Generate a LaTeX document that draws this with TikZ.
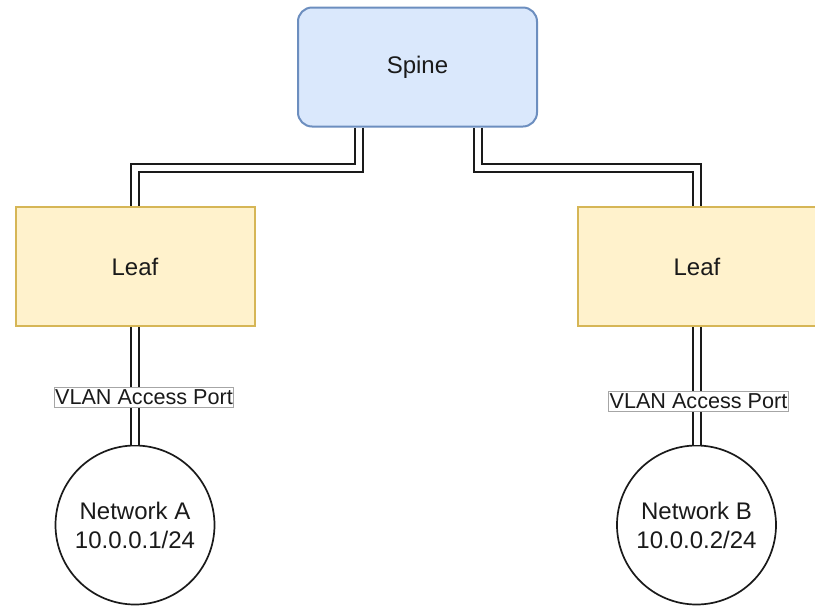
\documentclass[tikz,border=0pt]{standalone}
\usepackage{fontspec}
\setmainfont{Liberation Sans}
\definecolor{spinefill}{HTML}{DAE8FC}
\definecolor{spinedraw}{HTML}{6C8EBF}
\definecolor{leaffill}{HTML}{FFF2CC}
\definecolor{leafdraw}{HTML}{D6B656}
\definecolor{ink}{HTML}{1A1A1A}
\begin{document}
\begin{tikzpicture}[x=1pt, y=-1pt,
  every node/.style={text=ink, font=\fontsize{24}{29}\selectfont},
  spinebox/.style={draw=spinedraw, fill=spinefill, line width=2pt,
    rounded corners=14pt, minimum width=239pt, minimum height=119pt},
  leafbox/.style={draw=leafdraw, fill=leaffill, line width=2pt,
    minimum width=239pt, minimum height=119pt},
  netcircle/.style={draw=ink, fill=white, line width=1.7pt, circle,
    minimum size=159pt, inner sep=0pt, align=center},
  link/.style={draw=ink, line width=2pt, double=white,
    double distance=6pt, line join=miter},
  portlabel/.style={draw=black!35, line width=0.7pt, fill=white,
    font=\fontsize{21.6}{24}\selectfont, inner xsep=1pt, inner ysep=2.5pt}
]
\useasboundingbox (0,0) rectangle (815,606);
\clip (0,0) rectangle (815,606);

% switches
\node[spinebox] (spine) at (417.5,67) {Spine};
\node[leafbox] (leafL) at (135,266.5) {Leaf};
\node[leafbox] (leafR) at (697,266.5) {Leaf};

% attached networks
\node[netcircle] (netA) at (135,525) {Network A\\10.0.0.1/24};
\node[netcircle] (netB) at (696.5,525) {Network B\\10.0.0.2/24};

% spine uplinks
\draw[link] ([xshift=-59pt]spine.south) -- ++(0,40) -| (leafL.north);
\draw[link] ([xshift=60pt]spine.south) -- ++(0,40) -| ([xshift=-0.5pt]leafR.north);

% access links
\draw[link] (leafL.south) -- (netA.north);
\draw[link] ([xshift=-0.5pt]leafR.south) -- (netB.north);

% port labels
\node[portlabel] (portA) at (144,397.5) {VLAN Access Port};
\node[portlabel] (portB) at (698.5,401.5) {VLAN Access Port};
\end{tikzpicture}
\end{document}
